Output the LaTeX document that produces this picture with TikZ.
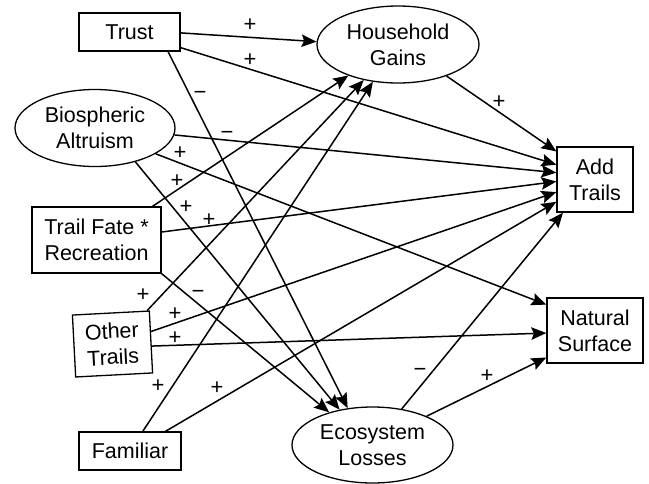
\documentclass[tikz,border=0pt]{standalone}
\usepackage{fontspec}
\setmainfont{Liberation Sans}
\usetikzlibrary{arrows.meta,shapes.geometric}
\begin{document}
\begin{tikzpicture}[x=1pt,y=-1pt,
  every node/.style={font=\fontsize{21.5}{26}\selectfont, align=center, inner sep=0pt},
  boxnode/.style={draw, line width=1.3pt, rectangle},
  ellnode/.style={draw, line width=1.3pt, ellipse},
  conn/.style={line width=1.5pt, -{Stealth[length=15pt,width=12.5pt,inset=2.5pt]}},
  sign/.style={font=\fontsize{22}{22}\selectfont}]
\useasboundingbox (0,0) rectangle (649,483);
% nodes
\node[boxnode, minimum width=101pt, minimum height=38pt] (trust) at (129.5,32) {Trust};
\node[ellnode, minimum width=160pt, minimum height=77pt] (bio) at (95,128) {Biospheric\\Altruism};
\node[boxnode, minimum width=129pt, minimum height=66pt] (tf) at (96.5,240) {Trail Fate *\\Recreation};
\node[boxnode, minimum width=77pt, minimum height=62pt, rotate=3] (ot) at (112.5,344) {Other\\Trails};
\node[boxnode, minimum width=102pt, minimum height=38pt] (fam) at (130,451) {Familiar};
\node[ellnode, minimum width=162pt, minimum height=77pt] (hg) at (398,44.5) {Household\\Gains};
\node[boxnode, minimum width=76pt, minimum height=65pt] (at) at (595,179.5) {Add\\Trails};
\node[boxnode, minimum width=96pt, minimum height=65pt] (ns) at (595,330.5) {Natural\\Surface};
\node[ellnode, minimum width=161pt, minimum height=76pt] (el) at (372.5,445) {Ecosystem\\Losses};
% connectors
\draw[conn] (trust.-1) -- (hg.178);
\draw[conn] (trust.-17.6) -- (at.159);
\draw[conn] (trust.-27.5) -- (el.124);
\draw[conn] (bio.-5.8) -- (at.170.3);
\draw[conn] (bio.-23.2) -- (ns.152);
\draw[conn] (bio.-40.6) -- (el.133);
\draw[conn] (tf.31.7) -- (hg.212.5);
\draw[conn] (tf.7.1) -- (at.183.8);
\draw[conn] (tf.south east) -- (el.143.6);
\draw[conn] (ot.41.6) -- (hg.226.2);
\draw[conn] (ot.15.7) -- (at.198.2);
\draw[conn] (ot.-6) -- (ns.183);
\draw[conn] (fam.57.7) -- (hg.236.3);
\draw[conn] (fam.29.9) -- (at.210.6);
\draw[conn] (hg.-33.8) -- (at.144.1);
\draw[conn] (el.51.4) -- (at.-134.6);
\draw[conn] (el.28.4) -- (ns.209.8);
% signs
\node[sign] (s1) at (250,25) {+};
\node[sign] (s2) at (250,60) {+};
\node[sign] (s3) at (200,95) {−};
\node[sign] (s4) at (227,135) {−};
\node[sign] (s5) at (180,153) {+};
\node[sign] (s6) at (177,181) {+};
\node[sign] (s7) at (186,207) {+};
\node[sign] (s8) at (209,220) {+};
\node[sign] (s9) at (499,102) {+};
\node[sign] (s10) at (143,295) {+};
\node[sign] (s11) at (198,294) {−};
\node[sign] (s12) at (175,314) {+};
\node[sign] (s13) at (175,338) {+};
\node[sign] (s14) at (158,386) {+};
\node[sign] (s15) at (217,388) {+};
\node[sign] (s16) at (420,372) {−};
\node[sign] (s17) at (487,376) {+};
\end{tikzpicture}
\end{document}
